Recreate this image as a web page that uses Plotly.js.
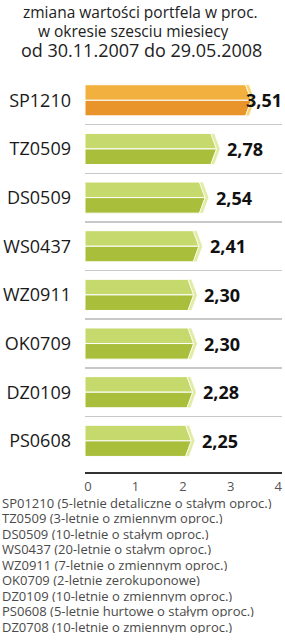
<!DOCTYPE html>
<html>
<head>
<meta charset="utf-8">
<script src="https://cdn.plot.ly/plotly-3.0.1.min.js"></script>
<style>html,body{margin:0;padding:0;background:#fff;}#chart{width:285px;height:640px;}</style>
</head>
<body>
<div id="chart"></div>
<script>
const categories = ['SP1210','TZ0509','DS0509','WS0437','WZ0911','OK0709','DZ0109','PS0608'];
const values = [3.51, 2.78, 2.54, 2.41, 2.30, 2.30, 2.28, 2.25];
const xTicks = [0, 1, 2, 3, 4];
const xTickLabels = ['0', '1', '2', '3', '4'];
const notes = [
  'SP01210 (5-letnie detaliczne o stałym oproc.)',
  'TZ0509 (3-letnie o zmiennym oproc.)',
  'DS0509 (10-letnie o stałym oproc.)',
  'WS0437 (20-letnie o stałym oproc.)',
  'WZ0911 (7-letnie o zmiennym oproc.)',
  'OK0709 (2-letnie zerokuponowe)',
  'DZ0109 (10-letnie o zmiennym oproc.)',
  'PS0608 (5-letnie hurtowe o stałym oproc.)',
  'DZ0708 (10-letnie o zmiennym oproc.)'
];
const titleLines = ['zmiana wartości portfela w proc.', 'w okresie szesciu miesiecy', 'od 30.11.2007 do 29.05.2008'];

const FONT = 'Open Sans, sans-serif';
const X_MIN = -0.06, X_MAX = 4.08;
const PLOT_LEFT = 85, PLOT_TOP = 75, PLOT_BOTTOM_PX = 472;
const palettes = {
  hi: {up: '#F2B13E', lo: '#E8942A', cap: '#F7D474'},
  norm: {up: '#C6D96C', lo: '#A9BF3B', cap: '#E2EBA3'}
};
const h = 0.32, c = 0.12, b = 0.075, s = X_MIN;

const traces = [];
function poly(pts, color, lw) {
  const xs = pts.map(p => p[0]); const ys = pts.map(p => p[1]);
  xs.push(pts[0][0]); ys.push(pts[0][1]);
  traces.push({type: 'scatter', mode: 'lines', x: xs, y: ys, fill: 'toself',
    fillcolor: color, line: {color: '#ffffff', width: lw}, hoverinfo: 'skip', showlegend: false});
}
values.forEach((v, i) => {
  const pal = i === 0 ? palettes.hi : palettes.norm;
  const e = v - c - b;
  poly([[s, i - h], [e, i - h], [e + c, i], [s, i]], pal.up, 1);
  poly([[s, i], [e + c, i], [e, i + h], [s, i + h]], pal.lo, 1);
  poly([[e, i - h], [e + b, i - h], [v, i], [e + b, i + h], [e, i + h], [e + c, i]], pal.cap, 0.6);
});

const annotations = values.map((v, i) => {
  const txt = v.toFixed(2).replace('.', ',');
  const overflow = v > 3.3;
  return {x: overflow ? X_MAX : v, y: i, xref: 'x', yref: 'y', text: txt, showarrow: false,
    xanchor: overflow ? 'right' : 'left', xshift: overflow ? 2 : 5, yanchor: 'middle',
    font: {family: FONT, size: 18, color: '#111', weight: 'bold'}};
});
// title lines (page centre positions in px)
const titleCenters = [[140, 12, 15.5], [133, 31, 15.5], [141, 50, 18]];
titleLines.forEach((t, k) => {
  const [cx, cy, fs] = titleCenters[k];
  annotations.push({x: 0, y: 1, xref: 'paper', yref: 'paper', xanchor: 'center', yanchor: 'middle',
    xshift: cx - PLOT_LEFT, yshift: PLOT_TOP - cy, showarrow: false, text: t, height: 18,
    borderpad: 0, valign: 'middle', font: {family: FONT, size: fs, color: '#222'}});
});
// footnote lines
notes.forEach((t, k) => {
  const cy = 502.5 + k * 15.45;
  annotations.push({x: 0, y: 0, xref: 'paper', yref: 'paper', xanchor: 'left', yanchor: 'middle',
    xshift: 1 - PLOT_LEFT, yshift: PLOT_BOTTOM_PX - cy, showarrow: false, text: t, height: 13,
    borderpad: 0, valign: 'middle', font: {family: FONT, size: 13, color: '#4a4a4a'}});
});

const idx = categories.map((_, i) => i);
const layout = {
  width: 285, height: 640,
  margin: {l: PLOT_LEFT, r: 3, t: PLOT_TOP, b: 640 - PLOT_BOTTOM_PX},
  paper_bgcolor: '#fff', plot_bgcolor: '#fff',
  xaxis: {range: [X_MIN, X_MAX], tickvals: xTicks, ticktext: xTickLabels, showgrid: false,
    zeroline: false, showline: true, linecolor: '#333', linewidth: 2, ticks: '',
    ticklabelstandoff: 1, tickfont: {family: FONT, size: 13, color: '#555'}, fixedrange: true},
  yaxis: {range: [7.64, -0.52], tickvals: idx, ticktext: categories, showgrid: false,
    zeroline: false, showline: false, ticks: '', ticklabelstandoff: 13,
    tickfont: {family: FONT, size: 18, color: '#1a1a1a'},
    minor: {tickmode: 'array', tickvals: idx.slice(0, -1).map(i => i + 0.5).concat([-0.5]),
      showgrid: true, gridcolor: '#c8c8c8', gridwidth: 1.5, ticks: ''}, fixedrange: true},
  annotations: annotations,
  showlegend: false
};
Plotly.newPlot('chart', traces, layout, {displayModeBar: false, staticPlot: true});
</script>
</body>
</html>
